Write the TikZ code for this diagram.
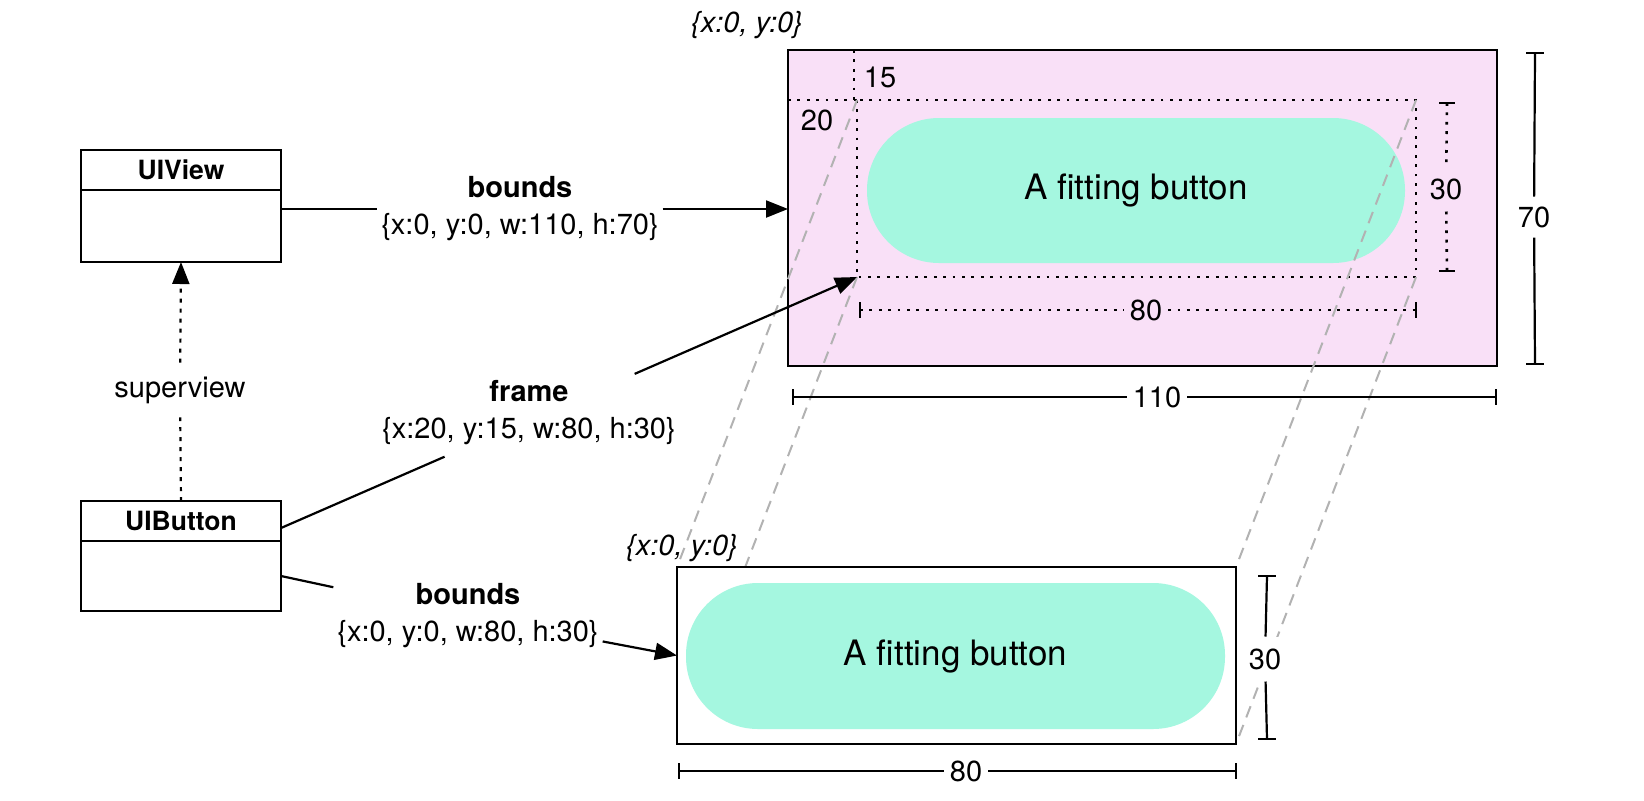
\documentclass[tikz,border=0pt]{standalone}
\usepackage{fontspec}
\setmainfont{TeX Gyre Heros}
\usetikzlibrary{arrows.meta,calc}
\definecolor{pinkbg}{RGB}{249,224,247}
\definecolor{tealbtn}{RGB}{165,247,224}
\definecolor{projgray}{RGB}{178,178,178}
\pgfdeclarelayer{backl}
\pgfdeclarelayer{projl}
\pgfsetlayers{backl,projl,main}
\begin{document}
\begin{tikzpicture}[x=0.5pt,y=-0.5pt,
  txt/.style={font=\fontsize{14.5pt}{18.5pt}\selectfont, inner sep=2pt, outer sep=0pt},
  twoline/.style={txt, align=center},
  conn/.style={line width=1.1pt},
  tipped/.style={-{Triangle[length=11pt,width=8.5pt]}},
  dotline/.style={line width=1.3pt, dash pattern=on 1.4pt off 3.3pt},
  superline/.style={line width=1.1pt, dash pattern=on 2pt off 3pt},
  dimline/.style={line width=1.1pt},
  projline/.style={draw=projgray, line width=1pt, dash pattern=on 6pt off 4pt},
  umlhead/.style={draw, line width=1.1pt, minimum width=100pt, minimum height=20pt, inner sep=0pt, outer sep=0pt, font=\bfseries\fontsize{13.25pt}{16pt}\selectfont},
  umlbody/.style={draw, line width=1.1pt, minimum width=100pt, inner sep=0pt, outer sep=0pt},
  viewrect/.style={draw, line width=1.2pt, minimum width=279.5pt, minimum height=88.5pt, inner sep=0pt, outer sep=0pt},
  pill/.style={fill=tealbtn, rounded corners=36pt, minimum width=269pt, minimum height=72.5pt, inner sep=0pt, outer sep=0pt, font=\fontsize{17.5pt}{21pt}\selectfont},
  dimlabh/.style={txt, inner xsep=3pt, inner ysep=2pt},
  dimlabv/.style={txt, inner xsep=2pt, inner ysep=6pt},
]
\useasboundingbox (0,0) rectangle (1644,800);

% ---------- UML boxes ----------
\node[umlhead] (uvhead) at (181,170) {UIView};
\node[umlbody, minimum height=36pt] (uvbody) at (181,226) {};
\node[umlhead] (bbhead) at (181,521) {UIButton};
\node[umlbody, minimum height=35pt] (bbbody) at (181,576) {};

% ---------- big view (superview) ----------
\begin{pgfonlayer}{backl}
\node[draw, line width=1.2pt, fill=pinkbg, minimum width=354.5pt, minimum height=158pt, inner sep=0pt, outer sep=0pt] (bigview) at (1142.5,208) {};
\node[pill] (bigpill) at (1136,190.5) {A fitting button};
\node[draw=none, minimum width=279.5pt, minimum height=88.5pt, inner sep=0pt, outer sep=0pt] (frame) at (1136.5,188.5) {};
\draw[dotline] (frame.north west) rectangle (frame.south east);
\draw[dotline] (bigview.west |- frame.north west) -- (frame.north west);
\draw[dotline] ([xshift=-1.5pt]frame.north west |- bigview.north) -- ([xshift=-1.5pt]frame.north west);
\node[txt] (lbl15) at (880,77) {15};
\node[txt] (lbl20) at (817,120) {20};
% inner 30 (dotted)
\coordinate (d30a) at (1447,103);
\coordinate (d30b) at (1447,271);
\node[dimlabv, fill=pinkbg] (lbl30a) at (1446,189) {30};
\draw[dotline] (d30a) -- (lbl30a);
\draw[dotline] (lbl30a) -- (d30b);
\draw[dimline] ($(d30a)+(-8,0)$) -- ($(d30a)+(8,0)$);
\draw[dimline] ($(d30b)+(-8,0)$) -- ($(d30b)+(8,0)$);
% inner 80 (dotted)
\coordinate (d80a) at (860,310);
\coordinate (d80b) at (1416,310);
\node[dimlabh, fill=pinkbg] (lbl80a) at (1146,310) {80};
\draw[dotline] (d80a) -- (lbl80a);
\draw[dotline] (lbl80a) -- (d80b);
\draw[dimline] ($(d80a)+(0,-8)$) -- ($(d80a)+(0,8)$);
\draw[dimline] ($(d80b)+(0,-8)$) -- ($(d80b)+(0,8)$);
\end{pgfonlayer}

\node[txt, font=\itshape\fontsize{14.5pt}{18.5pt}\selectfont] (origin1) at (747,25) {\{x:0, y:0\}};

% 110 dimension
\coordinate (d110a) at (793,397);
\coordinate (d110b) at (1496,397);
\node[dimlabh, fill=white] (lbl110) at (1157,397) {110};
\draw[dimline] (d110a) -- (lbl110);
\draw[dimline] (lbl110) -- (d110b);
\draw[dimline] ($(d110a)+(0,-8)$) -- ($(d110a)+(0,8)$);
\draw[dimline] ($(d110b)+(0,-8)$) -- ($(d110b)+(0,8)$);
% 70 dimension
\coordinate (d70a) at (1535,53);
\coordinate (d70b) at (1535,364);
\node[dimlabv, inner ysep=5pt, fill=white] (lbl70) at (1534,217) {70};
\draw[dimline] (d70a) -- (lbl70);
\draw[dimline] (lbl70) -- (d70b);
\draw[dimline] ($(d70a)+(-9,0)$) -- ($(d70a)+(9,0)$);
\draw[dimline] ($(d70b)+(-9,0)$) -- ($(d70b)+(9,0)$);

% ---------- small view (button bounds) ----------
\node[viewrect, fill=white] (smallview) at (956.5,655.5) {};
\node[pill, minimum width=269.5pt, minimum height=73pt] (smallpill) at (955.5,656) {A fitting button};
\node[txt, font=\itshape\fontsize{14.5pt}{18.5pt}\selectfont] (origin2) at (682,548) {\{x:0, y:0\}};

% projection lines
\begin{pgfonlayer}{projl}
\draw[projline] (frame.north west) -- (smallview.north west);
\draw[projline] (frame.south west) -- (smallview.south west);
\draw[projline] (frame.north east) -- (smallview.north east);
\draw[projline] (frame.south east) -- (smallview.south east);
\end{pgfonlayer}

% 80 bottom dimension
\coordinate (d80c) at (679,771);
\coordinate (d80d) at (1236,771);
\node[dimlabh, fill=white] (lbl80b) at (966,771) {80};
\draw[dimline] (d80c) -- (lbl80b);
\draw[dimline] (lbl80b) -- (d80d);
\draw[dimline] ($(d80c)+(0,-8)$) -- ($(d80c)+(0,8)$);
\draw[dimline] ($(d80d)+(0,-8)$) -- ($(d80d)+(0,8)$);
% 30 bottom dimension
\coordinate (d30c) at (1267,576);
\coordinate (d30d) at (1267,739);
\node[dimlabv, fill=white] (lbl30b) at (1265,659) {30};
\draw[dimline] (d30c) -- (lbl30b);
\draw[dimline] (lbl30b) -- (d30d);
\draw[dimline] ($(d30c)+(-9,0)$) -- ($(d30c)+(9,0)$);
\draw[dimline] ($(d30d)+(-9,0)$) -- ($(d30d)+(9,0)$);

% ---------- labels and connectors ----------
\node[twoline] (bounds1) at (520,209) {\textbf{bounds}\\\{x:0, y:0, w:110, h:70\}};
\node[twoline] (framelbl) at (529,413) {\textbf{frame}\\\{x:20, y:15, w:80, h:30\}};
\node[twoline] (bounds2) at (468,616) {\textbf{bounds}\\\{x:0, y:0, w:80, h:30\}};
\node[txt, inner ysep=7pt] (superlbl) at (180,390) {superview};
\coordinate (frstart) at ([yshift=-3.5pt]bbhead.east);

\draw[conn] (uvbody.east |- bounds1.west) -- (bounds1.west);
\draw[conn, tipped] (bounds1.east) -- (bigview.west |- bounds1.east);
\draw[conn] (frstart) -- ($(frstart)!0.284!(frame.south west)$);
\draw[conn, tipped] ($(frstart)!0.614!(frame.south west)$) -- (frame.south west);
\draw[conn] (bbbody.east) -- (bounds2);
\draw[conn, tipped] (bounds2) -- (smallview.west);
\draw[superline] (bbhead.north) -- (superlbl);
\draw[superline, tipped] (superlbl) -- (uvbody.south);
\end{tikzpicture}
\end{document}
